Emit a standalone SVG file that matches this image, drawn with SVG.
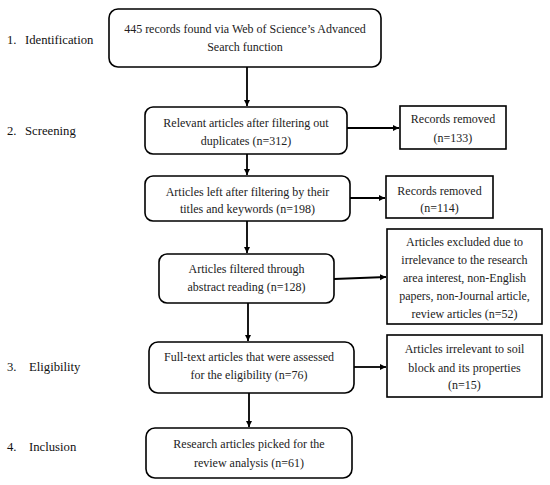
<svg xmlns="http://www.w3.org/2000/svg" width="550" height="485" viewBox="0 0 550 485">
<style>
.rb{fill:#fff;stroke:#000;stroke-width:1.6}
.sb{fill:#fff;stroke:#000;stroke-width:1.6}
.t{fill:#222;text-anchor:middle}
.lab{fill:#111}
.c{stroke:#000;stroke-width:1.8;fill:none;marker-end:url(#ah)}
</style>
<defs>
<marker id="ah" markerWidth="8" markerHeight="8" refX="6" refY="3" orient="auto" markerUnits="userSpaceOnUse">
<path d="M0,0 L6,3 L0,6 Z" fill="#000"/>
</marker>
</defs>
<rect width="550" height="485" fill="#fff"/>
<g id="labels" font-family="'Liberation Serif', 'Times New Roman', serif" font-size="12.7">
<text class="lab" x="7" y="44">1.</text><text class="lab" x="25" y="44">Identification</text>
<text class="lab" x="7" y="135">2.</text><text class="lab" x="25" y="135">Screening</text>
<text class="lab" x="7" y="371">3.</text><text class="lab" x="29" y="371">Eligibility</text>
<text class="lab" x="7" y="451">4.</text><text class="lab" x="29" y="451">Inclusion</text>
</g>
<g id="connectors">
<line class="c" x1="247" y1="67" x2="247" y2="106"/>
<line class="c" x1="247" y1="154" x2="247" y2="175"/>
<line class="c" x1="247" y1="221" x2="247" y2="253"/>
<line class="c" x1="248" y1="303" x2="248" y2="341"/>
<line class="c" x1="249" y1="393" x2="249" y2="427"/>
<line class="c" x1="347" y1="128" x2="399" y2="128"/>
<line class="c" x1="350" y1="198" x2="385" y2="198"/>
<line class="c" x1="334" y1="279" x2="386" y2="277"/>
<line class="c" x1="354" y1="367" x2="386" y2="367"/>
</g>
<g font-family="'Liberation Serif', 'Times New Roman', serif" font-size="12">
<g id="n1">
<rect class="rb" x="109" y="9" width="272" height="58" rx="9"/>
<text class="t" x="245" y="33">445 records found via Web of Science’s Advanced</text>
<text class="t" x="245" y="51">Search function</text>
</g>
<g id="n2">
<rect class="rb" x="145" y="107" width="202" height="47" rx="8"/>
<text class="t" x="246" y="127">Relevant articles after filtering out</text>
<text class="t" x="246" y="145">duplicates (n=312)</text>
</g>
<g id="n3">
<rect class="rb" x="145" y="176" width="205" height="45" rx="8"/>
<text class="t" x="247.5" y="196">Articles left after filtering by their</text>
<text class="t" x="247.5" y="213">titles and keywords  (n=198)</text>
</g>
<g id="n4">
<rect class="rb" x="159" y="254" width="175" height="49" rx="8"/>
<text class="t" x="246.5" y="273">Articles filtered through</text>
<text class="t" x="246.5" y="291">abstract reading (n=128)</text>
</g>
<g id="n5">
<rect class="rb" x="149" y="342" width="205" height="51" rx="9"/>
<text class="t" x="249" y="361">Full-text articles that were assessed</text>
<text class="t" x="249" y="379">for the eligibility (n=76)</text>
</g>
<g id="n6">
<rect class="rb" x="146" y="428" width="206" height="50" rx="9"/>
<text class="t" x="249" y="448">Research articles picked for the</text>
<text class="t" x="249" y="467">review analysis (n=61)</text>
</g>
<g id="r1">
<rect class="sb" x="400" y="106" width="106" height="43"/>
<text class="t" x="453" y="123">Records removed</text>
<text class="t" x="453" y="142">(n=133)</text>
</g>
<g id="r2">
<rect class="sb" x="386" y="176" width="107" height="42"/>
<text class="t" x="439.5" y="195">Records removed</text>
<text class="t" x="439.5" y="212">(n=114)</text>
</g>
<g id="r3">
<rect class="sb" x="387" y="229" width="155" height="95"/>
<text class="t" x="464.5" y="246">Articles excluded due to</text>
<text class="t" x="464.5" y="264">irrelevance to the research</text>
<text class="t" x="464.5" y="282">area interest, non-English</text>
<text class="t" x="464.5" y="300">papers, non-Journal article,</text>
<text class="t" x="464.5" y="318">review articles (n=52)</text>
</g>
<g id="r4">
<rect class="sb" x="387" y="335" width="155" height="62"/>
<text class="t" x="464.5" y="353">Articles irrelevant to soil</text>
<text class="t" x="464.5" y="372">block and its properties</text>
<text class="t" x="464.5" y="389">(n=15)</text>
</g>
</g>
</svg>
